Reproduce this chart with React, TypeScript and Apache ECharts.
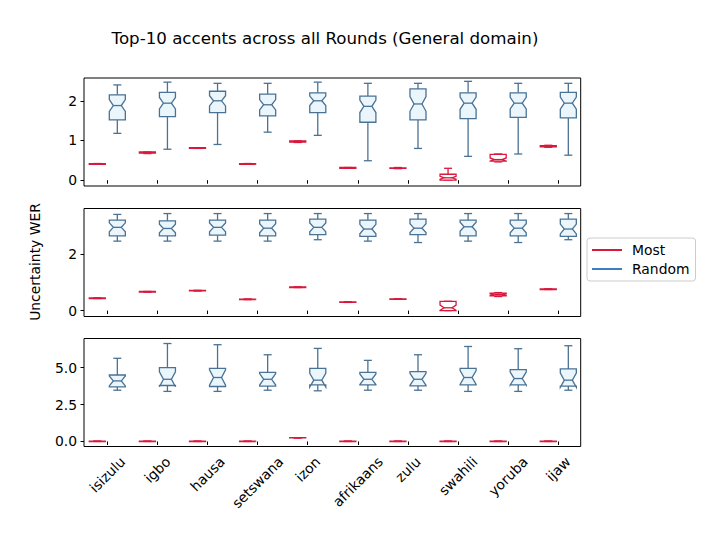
import React, { useEffect, useRef } from 'react';
import * as echarts from 'echarts';

const categories = ['isizulu', 'igbo', 'hausa', 'setswana', 'izon', 'afrikaans', 'zulu', 'swahili', 'yoruba', 'ijaw'];

// rows: [lowWhisker, q1, median, q3, highWhisker]
const most1 = [
  [0.40, 0.40, 0.41, 0.42, 0.42], [0.67, 0.68, 0.69, 0.71, 0.71], [0.80, 0.80, 0.81, 0.82, 0.82],
  [0.40, 0.40, 0.41, 0.42, 0.42], [0.95, 0.96, 0.97, 0.99, 0.99], [0.30, 0.30, 0.31, 0.32, 0.32],
  [0.29, 0.30, 0.31, 0.31, 0.32], [0.00, 0.00, 0.06, 0.15, 0.30], [0.46, 0.48, 0.52, 0.65, 0.66],
  [0.83, 0.84, 0.85, 0.87, 0.88],
];
const random1 = [
  [1.18, 1.52, 1.88, 2.15, 2.40], [0.78, 1.60, 1.94, 2.21, 2.47], [0.90, 1.70, 2.00, 2.24, 2.44],
  [1.21, 1.62, 1.90, 2.17, 2.44], [1.13, 1.70, 2.00, 2.20, 2.47], [0.49, 1.46, 1.86, 2.12, 2.44],
  [0.80, 1.52, 1.92, 2.30, 2.44], [0.60, 1.55, 1.94, 2.20, 2.49], [0.66, 1.58, 1.94, 2.20, 2.44],
  [0.63, 1.57, 1.94, 2.21, 2.44],
];
const most2 = [
  [0.43, 0.43, 0.44, 0.45, 0.45], [0.66, 0.66, 0.67, 0.68, 0.68], [0.70, 0.70, 0.71, 0.72, 0.72],
  [0.39, 0.39, 0.40, 0.41, 0.41], [0.82, 0.82, 0.83, 0.84, 0.84], [0.29, 0.29, 0.30, 0.31, 0.31],
  [0.40, 0.40, 0.41, 0.42, 0.42], [0.00, 0.00, 0.10, 0.33, 0.33], [0.50, 0.52, 0.57, 0.62, 0.64],
  [0.75, 0.75, 0.76, 0.77, 0.77],
];
const random2 = [
  [2.47, 2.66, 2.96, 3.22, 3.42], [2.47, 2.66, 2.92, 3.19, 3.45], [2.47, 2.68, 2.96, 3.22, 3.45],
  [2.47, 2.66, 2.93, 3.22, 3.45], [2.52, 2.70, 2.96, 3.25, 3.45], [2.47, 2.64, 2.90, 3.22, 3.45],
  [2.42, 2.70, 2.93, 3.25, 3.45], [2.47, 2.66, 2.98, 3.22, 3.45], [2.42, 2.66, 2.93, 3.22, 3.45],
  [2.52, 2.64, 2.90, 3.25, 3.45],
];
const most3 = [
  [0.00, 0.00, 0.01, 0.02, 0.02], [0.00, 0.00, 0.01, 0.02, 0.02], [0.00, 0.00, 0.01, 0.02, 0.02],
  [0.00, 0.00, 0.01, 0.02, 0.02], [0.24, 0.24, 0.25, 0.26, 0.26], [0.00, 0.00, 0.01, 0.02, 0.02],
  [0.00, 0.00, 0.01, 0.02, 0.02], [0.00, 0.00, 0.01, 0.02, 0.02], [0.00, 0.00, 0.01, 0.02, 0.02],
  [0.00, 0.00, 0.01, 0.02, 0.02],
];
const random3 = [
  [3.47, 3.70, 4.10, 4.50, 5.63], [3.39, 3.79, 4.21, 5.00, 6.63], [3.39, 3.72, 4.33, 4.95, 6.55],
  [3.47, 3.75, 4.21, 4.68, 5.87], [3.43, 3.83, 4.15, 4.95, 6.30], [3.47, 3.83, 4.21, 4.68, 5.49],
  [3.47, 3.76, 4.21, 4.73, 5.87], [3.39, 3.83, 4.33, 4.95, 6.43], [3.39, 3.83, 4.26, 4.87, 6.28],
  [3.47, 3.75, 4.15, 4.91, 6.48],
];
// approximate sample count per round (sets notch depth, matplotlib formula)
const samplesPerRound = [44, 30, 14];
const yTicks = [[0, 1, 2], [0, 2], [0, 2.5, 5]];
const yRanges = [[-0.146, 2.574], [-0.21, 3.63], [-0.34, 6.97]];

const FONT = 'DejaVu Sans';
const MOST_COLOR = '#d7193c';
const RANDOM_LEGEND = '#3b7ec4';
const RANDOM_STROKE = '#4a7294';
const RANDOM_FILL = '#eaf6fb';

function measure(text: string, size: number) {
  const ctx = document.createElement('canvas').getContext('2d');
  if (!ctx) return text.length * size * 0.58;
  ctx.font = `${size}px "${FONT}"`;
  return ctx.measureText(text).width;
}

function makeRender(offset: number, width: number, stroke: string, fill: string, n: number) {
  return (params: any, api: any) => {
    const x = api.value(0);
    const low = api.value(1), q1 = api.value(2), med = api.value(3), q3 = api.value(4), high = api.value(5);
    const nh = (1.57 * (q3 - q1)) / Math.sqrt(n);
    const nlo = med - nh, nhi = med + nh;
    const pos = x + offset;
    const px = (v: number) => api.coord([v, med])[0];
    const py = (v: number) => api.coord([pos, v])[1];
    const L = px(pos - width / 2), R = px(pos + width / 2);
    const cl = px(pos - width / 4), cr = px(pos + width / 4), cx = px(pos);
    const lw = 1.3;
    const st = { stroke, lineWidth: lw, fill: 'none' };
    const pts = [
      [L, py(q1)], [R, py(q1)], [R, py(nlo)], [cr, py(med)], [R, py(nhi)], [R, py(q3)],
      [L, py(q3)], [L, py(nhi)], [cl, py(med)], [L, py(nlo)],
    ];
    return {
      type: 'group',
      children: [
        { type: 'line', shape: { x1: cx, y1: py(q1), x2: cx, y2: py(low) }, style: st },
        { type: 'line', shape: { x1: cx, y1: py(q3), x2: cx, y2: py(high) }, style: st },
        { type: 'line', shape: { x1: cl, y1: py(low), x2: cr, y2: py(low) }, style: st },
        { type: 'line', shape: { x1: cl, y1: py(high), x2: cr, y2: py(high) }, style: st },
        { type: 'polygon', shape: { points: pts }, style: { stroke, lineWidth: lw, fill } },
        { type: 'line', shape: { x1: cl, y1: py(med), x2: cr, y2: py(med) }, style: st },
      ],
    };
  };
}

export default function App() {
  const ref = useRef<HTMLDivElement>(null);
  useEffect(() => {
    document.body.style.margin = '0';
    if (!ref.current) return;
    const chart = echarts.init(ref.current, null, { renderer: 'svg' });
    const labelSize = 13.9;
    const rich: any = {};
    categories.forEach((c, i) => {
      const w = measure(c, labelSize);
      const p = (w + 16) / 2;
      rich['r' + i] = { fontSize: labelSize, fontFamily: FONT, color: '#000', padding: [p, p, 0, 0] };
    });
    const tops = [78, 208.5, 338.5];
    const grids = tops.map((t) => ({
      left: 84, right: 143.3, top: t, height: 108, show: true,
      borderColor: '#000', borderWidth: 1, backgroundColor: 'transparent',
    }));
    const xTicks = categories.map((_, i) => i + 1);
    const xAxes = [0, 1, 2].map((p) => ({
      type: 'value', gridIndex: p, min: 0.535, max: 10.447,
      axisLine: { show: false },
      splitLine: { show: false },
      axisTick: { show: true, length: 3.5, customValues: xTicks, lineStyle: { color: '#000', width: 1 } },
      axisLabel: p === 2
        ? {
            show: true, customValues: xTicks, rotate: 45, align: 'center', verticalAlign: 'middle', margin: 7,
            formatter: (v: number) => { const i = Math.round(v) - 1; return `{r${i}|${categories[i]}}`; },
            rich,
          }
        : { show: false },
    }));
    const yAxes = [0, 1, 2].map((p) => ({
      type: 'value', gridIndex: p, min: yRanges[p][0], max: yRanges[p][1],
      axisLine: { show: false },
      splitLine: { show: false },
      axisTick: { show: true, length: 3.5, customValues: yTicks[p], lineStyle: { color: '#000', width: 1 } },
      axisLabel: {
        show: true, customValues: yTicks[p], margin: 7, fontSize: labelSize, fontFamily: FONT, color: '#000',
        formatter: (v: number) => (p === 2 ? v.toFixed(1) : String(v)),
      },
    }));
    const mostSets = [most1, most2, most3];
    const randSets = [random1, random2, random3];
    const series: any[] = [];
    [0, 1, 2].forEach((p) => {
      series.push({
        name: 'Most', type: 'custom', xAxisIndex: p, yAxisIndex: p,
        itemStyle: { color: MOST_COLOR },
        encode: { x: 0, y: [1, 2, 3, 4, 5] },
        data: mostSets[p].map((r, i) => [i + 1, ...r]),
        renderItem: makeRender(-0.2, 0.32, MOST_COLOR, '#ffffff', samplesPerRound[p]),
      });
      series.push({
        name: 'Random', type: 'custom', xAxisIndex: p, yAxisIndex: p,
        itemStyle: { color: RANDOM_LEGEND },
        encode: { x: 0, y: [1, 2, 3, 4, 5] },
        data: randSets[p].map((r, i) => [i + 1, ...r]),
        renderItem: makeRender(0.2, 0.32, RANDOM_STROKE, RANDOM_FILL, samplesPerRound[p]),
      });
    });
    chart.setOption({
      animation: false,
      backgroundColor: '#ffffff',
      grid: grids,
      xAxis: xAxes,
      yAxis: yAxes,
      series,
      legend: {
        show: true, orient: 'vertical', left: 587, top: 238,
        data: [
          { name: 'Most', itemStyle: { color: MOST_COLOR } },
          { name: 'Random', itemStyle: { color: RANDOM_LEGEND } },
        ],
        icon: 'rect', itemWidth: 30, itemHeight: 2, itemGap: 5,
        padding: [5, 6, 5, 5],
        borderColor: '#cccccc', borderWidth: 1, borderRadius: 3,
        backgroundColor: 'rgba(255,255,255,0.8)',
        textStyle: { fontSize: labelSize, fontFamily: FONT, color: '#000', padding: [0, 0, 0, 5] },
      },
      graphic: [
        {
          type: 'text', x: 325, y: 38,
          style: {
            text: 'Top-10 accents across all Rounds (General domain)', fontSize: 16.67, fontFamily: FONT,
            fill: '#000', textAlign: 'center', textVerticalAlign: 'middle',
          },
        },
        {
          type: 'text', x: 35, y: 262, rotation: Math.PI / 2,
          style: {
            text: 'Uncertainty WER', fontSize: labelSize, fontFamily: FONT,
            fill: '#000', textAlign: 'center', textVerticalAlign: 'middle',
          },
        },
      ],
    });
    return () => chart.dispose();
  }, []);
  return <div ref={ref} style={{ width: 724, height: 543 }} />;
}
